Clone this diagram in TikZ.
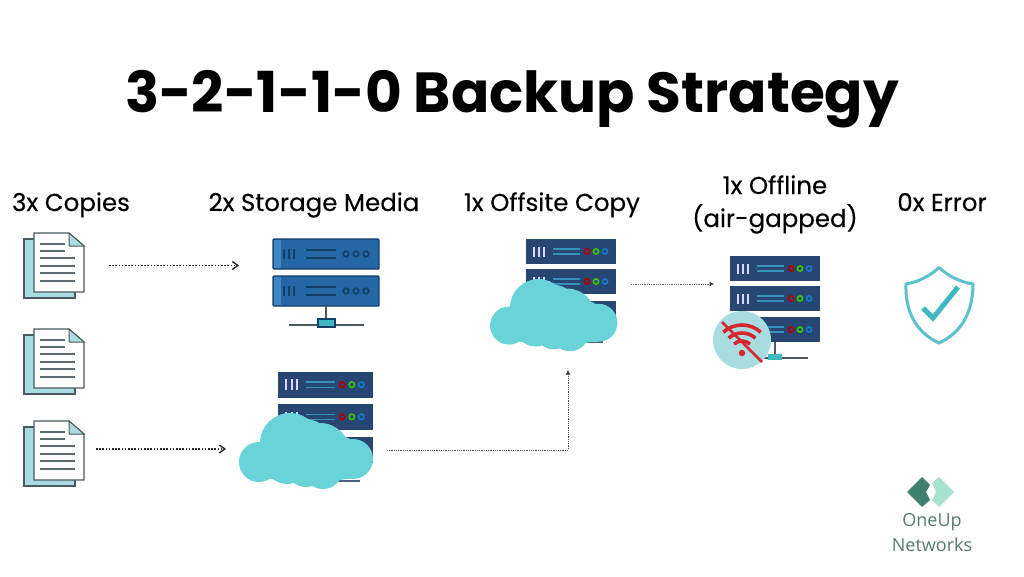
\documentclass[tikz,border=0pt]{standalone}
\usepackage{fontspec}
\setmainfont{Poppins}
\newfontfamily\medfont[FakeBold=0.25]{Poppins}
\newfontfamily\logofont{Open Sans}
\usetikzlibrary{arrows.meta}
\definecolor{navy}{HTML}{284672}
\definecolor{cloudc}{HTML}{69D3DA}
\definecolor{paleteal}{HTML}{A9DCE0}
\definecolor{edgec}{HTML}{4A5A60}
\definecolor{blueedge}{HTML}{123F66}
\definecolor{bluefill}{HTML}{2466A6}
\definecolor{bluehi}{HTML}{3F86C4}
\definecolor{shieldc}{HTML}{5CC1CC}
\definecolor{checkc}{HTML}{3FB8C2}
\definecolor{redc}{HTML}{D8262F}
\definecolor{logod}{HTML}{3F7F6F}
\definecolor{logol}{HTML}{A8E3D2}
\definecolor{logot}{HTML}{557A72}
\tikzset{
  x=1pt,y=-1pt,
  lbl/.style={font=\medfont\fontsize{24.5}{28}\selectfont,text=black,inner sep=0pt,anchor=base},
  flow/.style={draw=black!85,line width=1.3pt,dash pattern=on 1.6pt off 1.6pt,-{Straight Barb[length=5.5pt,width=8pt,line width=1.4pt]}},
  flowthin/.style={draw=black!60,line width=.8pt,dash pattern=on 1pt off .8pt,-{Latex[length=4.5pt,width=5pt,black!75]}},
  docpic/.pic={
    \draw[edgec,fill=paleteal,line width=1.1pt] (0,6) rectangle (51,65);
    \draw[edgec,fill=white,line width=1.2pt] (10,0) -- (45,0) -- (60,13) -- (60,59) -- (10,59) -- cycle;
    \draw[edgec,fill=paleteal,line width=1pt] (45,0) -- (45,13) -- (60,13) -- cycle;
    \foreach \yy/\xe in {11/41,18/41,25/51,33/51,40/51,48/51}
      \draw[edgec!90,line width=1.4pt] (16,\yy) -- (\xe,\yy);
  },
  rackunit/.pic={
    \fill[navy] (0,0) rectangle (90,25);
    \draw[white!85!blue,line width=2pt] (8,7.5) -- (8,17.5) (13,7.5) -- (13,17.5) (18,7.5) -- (18,17.5);
    \draw[cyan!45!teal,line width=1.4pt] (27,10) -- (54,10) (27,15) -- (54,15);
    \draw[red!70!black,line width=1.6pt] (61,12.5) circle (2.6);
    \draw[green!55!olive,line width=1.6pt] (70,12.5) circle (2.6);
    \draw[cyan!60!blue,line width=1.6pt] (79,12.5) circle (2.6);
  },
  cloudpic/.pic={
    \fill[cloudc] (-32,18) circle (20) (-1,-1) circle (30) (29,9) circle (30) (14,3) circle (28)
      (62,15) circle (20) (32,25) circle (20) (-4,18) circle (22)
      (15,23) circle (20) (48,14) circle (22);
    \fill[cloudc] (-32,5) rectangle (62,35);
  },
  bluerack/.pic={
    \draw[blueedge,fill=bluefill,line width=1.4pt,rounded corners=1pt] (0,0) rectangle (106,30);
    \fill[bluehi] (1,1) rectangle (8,29);
    \draw[blueedge,line width=2.1pt] (11,10) -- (11,20) (16,10) -- (16,20) (21,10) -- (21,20);
    \draw[blueedge,line width=2pt] (33,11) -- (63,11) (33,18.5) -- (63,18.5);
    \draw[blueedge,line width=1.6pt] (73,15) circle (2.8) (83,15) circle (2.8) (93,15) circle (2.8);
  }
}
\begin{document}
\begin{tikzpicture}
\useasboundingbox (0,0) rectangle (1024,576);
\fill[white] (0,0) rectangle (1024,576);
\node[inner sep=0pt,anchor=base,font=\fontsize{56.5}{60}\selectfont\bfseries] (title) at (512,112) {3-2-1-1-0 Backup Strategy};
\node[lbl] (l1) at (71,211) {3x Copies};
\node[lbl] (l2) at (314,211) {2x Storage Media};
\node[lbl] (l3) at (552,211) {1x Offsite Copy};
\node[lbl] (l4a) at (775,194) {1x Offline};
\node[lbl] (l4b) at (775,227) {(air-gapped)};
\node[lbl] (l5) at (942,211) {0x Error};
% documents
\pic at (24,233) {docpic};
\pic at (24,329) {docpic};
\pic at (24,421) {docpic};
\coordinate (d1) at (109,265.5);
\coordinate (d3) at (96,449);
% blue server
\pic at (273,239) {bluerack};
\pic at (273,276) {bluerack};
\draw[edgec,line width=1.6pt] (326,306) -- (326,320);
\draw[edgec,line width=1.4pt] (289,325) -- (364,325);
\draw[blueedge,fill=checkc,line width=1.2pt] (318,319) rectangle (335,327);
\coordinate (s1) at (239,265.5);
% lower rack + cloud
\draw[navy!85,line width=1.5pt] (310,481) -- (360,481);
\begin{scope}[shift={(278,371.5)},scale=1.055]
\pic[transform shape] at (0,0) {rackunit};
\pic[transform shape] at (0,30.5) {rackunit};
\pic[transform shape] at (0,62) {rackunit};
\end{scope}
\pic at (291,444) {cloudpic};
\coordinate (s2) at (226,449);
\coordinate (s2r) at (387,450);
% offsite
\draw[navy!85,line width=1.5pt] (560,342) -- (603,342);
\pic at (526,239) {rackunit};
\pic at (526,269) {rackunit};
\pic at (526,301) {rackunit};
\begin{scope}[shift={(539.5,308.5)},scale=.95]\pic[transform shape] at (0,0) {cloudpic};\end{scope}
\coordinate (c1in) at (568,370);
\coordinate (bend) at (568,450);
\coordinate (c1out) at (631,284);
% offline
\pic at (730,256) {rackunit};
\pic at (730,286) {rackunit};
\pic at (730,317) {rackunit};
\draw[edgec,line width=1.2pt] (775,342) -- (775,356);
\draw[edgec,line width=1.6pt] (760,358) -- (808,358);
\fill[checkc] (768,354) rectangle (782,360);
\fill[paleteal] (742,340) circle (29);
\draw[redc,line width=3.6pt] (742,353) ++(-48:12) arc (-48:-132:12);
\draw[redc,line width=3.6pt] (742,353) ++(-48:20) arc (-48:-132:20);
\draw[redc,line width=3.6pt] (742,353) ++(-48:28) arc (-48:-132:28);
\fill[redc] (742,353) circle (3.2);
\draw[redc,line width=2.6pt] (722,322) -- (762,362);
\coordinate (c2in) at (714,284);
% connectors
\draw[flow] (d1) -- (s1);
\draw[flow] (d3) -- (s2);
\draw[flowthin,black!70] (s2r) -- (bend) -- (c1in);
\draw[flowthin] (c1out) -- (c2in);
% shield
\draw[shieldc,line width=3pt,line join=round] (939,267.5) .. controls (930,276) and (918,282) .. (906,284)
  .. controls (905,310) and (915,332) .. (939,343) .. controls (963,332) and (973,310) .. (973,284)
  .. controls (960,282) and (948,276) .. (939,267.5) -- cycle;
\draw[checkc,line width=5pt] (923,308) -- (933,318) -- (958,287);
% logo
\fill[logod] (907,492) -- (922,477) -- (930,485) -- (926,492) -- (930,500) -- (922,507) -- cycle;
\fill[logol] (954,492) -- (939,477) -- (932,483) -- (936,492) -- (932,500) -- (939,507) -- cycle;
\node[inner sep=0pt,text=logot,font=\logofont\fontsize{18}{20}\selectfont] (logo1) at (932,522) {OneUp};
\node[inner sep=0pt,text=logot,font=\logofont\fontsize{18}{20}\selectfont] (logo2) at (932,545) {Networks};
\end{tikzpicture}
\end{document}
